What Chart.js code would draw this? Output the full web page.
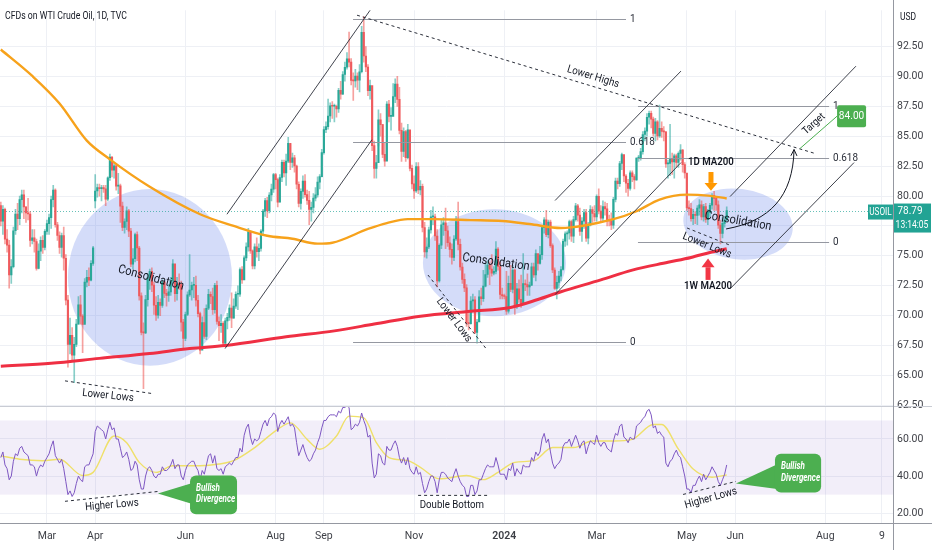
<!DOCTYPE html>
<html>
<head>
<meta charset="utf-8">
<title>CFDs on WTI Crude Oil, 1D</title>
<script src="https://cdn.jsdelivr.net/npm/chart.js"></script>
<style>
  html, body { margin: 0; padding: 0; background: #fff; }
  #box { width: 932px; height: 550px; position: relative; }
</style>
</head>
<body>
<div id="box"><canvas id="chart"></canvas></div>
<script>
// daily bars, one per weekday, 30 Jan 2023 .. 28 May 2024
const closes = [
  77.9, 78.9,
  76.4, 75.9, 73.4, 74.1, 77.1, 78.5, 78.1, 79.7, 80.1, 79.1, 78.6, 78.5, 76.3, 76.5, 76.2, 73.95, 75.4, 76.3, 75.7, 77.05,
  77.7, 78.2, 79.7, 80.5, 77.6, 76.7, 75.7, 76.7, 74.8, 71.3, 67.6, 68.35, 66.7, 67.6, 69.3, 70.9, 69.96, 69.26, 72.8, 73.2, 72.97, 74.37, 75.67,
  80.42, 80.71, 80.61, 80.7, 80.6, 79.74, 81.53, 83.26, 82.16, 82.52, 80.83, 80.86, 79.16, 77.37, 77.87, 78.76, 77.07, 74.3, 74.76, 76.78,
  75.66, 71.66, 68.6, 68.56, 71.34, 73.16, 73.71, 72.56, 70.87, 70.04, 71.11, 70.86, 72.83, 71.86, 71.69, 71.99, 72.91, 74.34, 71.83, 72.67, 72.6, 69.46, 68.09,
  70.1, 71.74, 72.15, 72.53, 72.53, 71.29, 70.17, 67.12, 69.42, 68.27, 70.62, 71.78, 71.6, 70.5, 72.53, 69.51, 69.16, 69.37, 67.7, 69.56, 69.86, 70.64,
  69.79, 70.8, 71.79, 71.8, 73.86, 72.99, 74.83, 75.75, 77.0, 75.42, 74.15, 75.75, 75.35, 75.63, 77.07, 78.74, 79.63, 78.78, 80.09, 80.58, 81.8,
  81.37, 79.49, 81.55, 82.82, 81.94, 82.92, 84.4, 82.82, 83.19, 82.51, 80.99, 79.38, 80.39, 81.25, 80.12, 79.64, 78.89, 79.05, 79.83, 80.1, 81.16, 81.63, 83.63,
  85.55, 85.8, 86.69, 87.54, 87.51, 87.51, 87.29, 88.84, 88.52, 90.16, 90.77, 91.48, 91.2, 89.66, 89.63, 90.03, 89.68, 90.39, 93.68, 91.71, 90.79,
  88.82, 89.23, 84.22, 82.31, 82.79, 86.38, 85.97, 83.49, 82.91, 87.69, 86.66, 86.66, 88.32, 89.37, 88.08, 85.49, 83.74, 85.39, 83.21, 85.54, 82.31, 81.02,
  80.44, 82.46, 80.51, 80.82, 77.37, 75.33, 75.74, 77.17, 78.26, 78.26, 76.66, 72.9, 75.89, 77.6, 77.77, 77.1, 76.1, 75.54, 74.86, 76.41, 77.86, 75.96,
  74.07, 73.04, 72.32, 69.38, 69.34, 71.23, 71.32, 68.61, 69.47, 71.58, 71.43, 72.47, 73.44, 74.22, 73.89, 73.56, 73.7, 75.57, 74.11, 71.77, 71.65,
  71.6, 70.38, 72.7, 72.19, 73.81, 70.77, 72.24, 71.37, 71.02, 72.68, 72.6, 72.4, 72.56, 74.08, 73.41, 75.19, 74.37, 75.09, 77.36, 78.01, 76.78, 77.82, 75.85,
  73.82, 72.28, 72.78, 73.31, 73.86, 76.22, 76.84, 76.92, 77.87, 76.64, 78.03, 79.19, 78.4, 77.04, 77.91, 78.61, 76.49, 77.58, 78.87, 78.54, 78.26,
  79.97, 78.74, 78.15, 79.13, 78.93, 78.01, 77.93, 77.56, 79.72, 81.26, 81.04, 82.72, 83.47, 81.68, 81.07, 80.63, 81.95, 81.62, 81.35, 83.17, 83.2,
  83.71, 85.15, 85.43, 86.59, 86.91, 86.43, 85.23, 86.21, 85.02, 85.66, 85.41, 85.36, 82.69, 82.73, 83.14, 82.85, 83.36, 82.81, 83.57, 83.85, 82.63, 81.93,
  79.0, 78.95, 78.11, 78.48, 78.38, 78.99, 79.26, 78.26, 79.12, 78.02, 78.63, 79.23, 80.06, 79.8, 79.26, 77.57, 76.87, 77.72, 78.0, 78.79
];
const highs = [
  79.5, 79.2,
  79.0, 77.2, 76.3, 74.7, 77.4, 78.9, 79.4, 80.0, 80.5, 80.5, 79.1, 79.8, 78.7, 77.2, 77.2, 76.4, 76.0, 76.6, 76.7, 77.2,
  78.0, 78.5, 80.0, 80.9, 80.6, 77.8, 77.0, 76.9, 77.4, 75.1, 71.7, 69.8, 69.0, 68.2, 69.7, 71.6, 71.7, 70.1, 73.1, 73.8, 74.0, 74.6, 75.8,
  81.8, 81.0, 81.0, 80.9, 80.9, 80.9, 81.6, 83.5, 83.3, 82.8, 82.6, 81.9, 81.0, 79.5, 78.1, 79.1, 78.9, 77.3, 75.6, 76.9,
  77.0, 75.8, 71.9, 69.4, 71.7, 73.5, 73.9, 74.0, 72.8, 71.6, 71.7, 71.4, 73.0, 72.9, 72.2, 72.6, 73.2, 74.7, 74.2, 73.2, 73.5, 72.9, 69.7,
  70.3, 72.0, 75.1, 72.8, 73.2, 73.3, 71.7, 70.3, 69.9, 70.6, 70.9, 72.2, 72.0, 72.3, 72.7, 72.9, 69.9, 70.1, 69.5, 69.8, 70.2, 70.9,
  71.9, 71.4, 72.0, 72.5, 74.0, 74.1, 75.0, 76.1, 77.3, 77.1, 75.5, 76.0, 76.5, 76.0, 77.2, 78.9, 79.8, 79.9, 80.3, 81.0, 81.9,
  81.9, 81.5, 81.8, 83.0, 83.0, 83.5, 84.9, 84.3, 83.6, 83.4, 82.6, 81.2, 80.6, 81.7, 81.8, 80.5, 80.4, 79.5, 80.2, 80.7, 81.6, 81.8, 83.9,
  85.8, 86.2, 88.1, 87.8, 87.9, 87.7, 87.6, 89.0, 89.6, 90.4, 91.2, 92.0, 93.7, 91.5, 90.3, 90.6, 90.3, 91.0, 94.2, 95.0, 92.5,
  91.0, 89.7, 89.0, 84.6, 83.4, 87.2, 86.9, 86.0, 84.5, 87.9, 88.0, 87.4, 89.4, 89.8, 90.0, 89.1, 86.1, 85.7, 85.5, 86.0, 85.5, 82.6,
  81.7, 82.8, 82.8, 81.3, 81.0, 77.8, 76.5, 77.4, 78.8, 79.1, 78.5, 77.2, 76.0, 78.0, 78.2, 79.0, 77.5, 76.6, 76.0, 76.7, 78.3, 79.5,
  76.4, 74.4, 73.5, 72.6, 70.2, 71.6, 71.8, 71.6, 69.7, 72.1, 72.3, 73.8, 74.4, 74.6, 74.5, 75.1, 74.1, 76.2, 75.7, 74.5, 72.3,
  71.8, 73.7, 73.3, 74.2, 74.2, 73.9, 72.7, 73.0, 73.4, 75.2, 73.0, 73.5, 72.8, 74.4, 74.4, 75.5, 75.1, 75.8, 77.5, 78.2, 78.8, 78.0, 78.0,
  76.0, 74.0, 73.3, 73.7, 74.1, 76.4, 77.0, 77.1, 78.0, 78.0, 78.3, 79.4, 79.3, 79.0, 78.2, 78.9, 78.9, 77.8, 79.2, 79.1, 79.2,
  80.1, 80.6, 79.2, 79.6, 79.5, 79.4, 78.4, 78.6, 79.9, 81.5, 81.5, 82.9, 83.6, 83.3, 81.8, 81.4, 82.1, 82.1, 81.8, 83.2, 83.4,
  84.0, 85.4, 85.7, 86.9, 87.1, 87.1, 86.6, 86.5, 86.3, 87.6, 86.2, 85.8, 85.4, 83.0, 86.0, 83.6, 83.5, 83.5, 83.7, 84.3, 83.9, 82.8,
  81.6, 79.6, 79.4, 78.9, 78.7, 79.2, 79.7, 79.6, 79.3, 79.4, 78.9, 79.4, 80.2, 80.4, 79.9, 79.6, 78.0, 78.2, 78.3, 79.1
];
const lows = [
  77.5, 76.8,
  76.0, 75.3, 72.3, 72.7, 74.0, 76.8, 77.2, 77.6, 78.6, 78.1, 77.8, 78.0, 75.8, 76.0, 75.3, 73.8, 73.9, 74.6, 75.2, 75.5,
  76.8, 76.8, 77.3, 79.1, 77.4, 76.3, 75.2, 74.9, 73.8, 70.9, 65.7, 66.8, 66.2, 64.4, 67.4, 69.3, 69.3, 66.9, 69.4, 72.4, 72.5, 72.9, 74.2,
  79.0, 79.9, 80.0, 79.6, 80.3, 79.2, 79.6, 81.3, 81.6, 81.5, 80.5, 80.2, 77.8, 77.1, 76.9, 77.2, 76.6, 74.1, 73.9, 74.5,
  74.6, 71.3, 68.4, 63.9, 68.5, 70.8, 72.2, 72.0, 70.1, 69.6, 69.8, 70.0, 70.7, 71.5, 70.8, 71.2, 71.7, 72.7, 71.2, 71.3, 72.2, 68.7, 67.2,
  67.9, 70.0, 71.6, 71.3, 71.5, 70.8, 69.9, 66.8, 67.6, 68.1, 68.0, 70.5, 71.0, 70.1, 70.2, 69.3, 67.9, 68.6, 67.5, 67.6, 68.9, 69.6,
  69.0, 69.8, 70.6, 70.5, 71.6, 72.7, 73.0, 74.6, 75.4, 75.2, 73.9, 73.9, 74.9, 74.6, 75.4, 76.7, 78.3, 78.2, 78.6, 79.6, 80.3,
  80.6, 79.1, 79.5, 81.2, 81.6, 80.9, 82.8, 82.2, 82.4, 82.0, 80.6, 79.1, 78.9, 79.8, 79.9, 79.3, 77.6, 77.9, 78.6, 79.6, 79.9, 80.6, 81.6,
  83.5, 85.3, 85.6, 86.2, 86.5, 86.2, 86.6, 87.0, 88.1, 88.5, 89.6, 90.6, 90.8, 89.3, 88.0, 89.1, 88.9, 88.7, 90.3, 91.2, 90.4,
  88.4, 88.1, 83.8, 81.5, 81.5, 84.2, 85.0, 83.2, 82.5, 83.0, 86.2, 85.5, 86.8, 87.8, 87.5, 85.2, 82.9, 83.3, 82.9, 83.1, 82.1, 80.6,
  79.8, 80.3, 80.2, 80.1, 77.0, 74.9, 74.8, 75.6, 76.9, 77.6, 76.3, 72.4, 72.8, 75.6, 76.7, 75.6, 75.8, 74.9, 74.3, 74.6, 76.3, 75.5,
  73.8, 72.7, 72.0, 69.1, 68.8, 69.3, 70.4, 68.5, 67.7, 69.5, 70.9, 71.2, 72.4, 73.2, 72.6, 73.3, 73.4, 73.5, 73.8, 71.4, 71.4,
  71.4, 70.1, 70.2, 72.0, 71.9, 70.1, 70.6, 71.1, 70.7, 72.3, 72.1, 71.7, 71.7, 72.5, 73.2, 72.9, 73.8, 74.3, 74.7, 76.9, 76.6, 76.5, 75.7,
  73.6, 72.2, 71.4, 72.3, 72.9, 73.8, 75.8, 75.9, 76.4, 76.2, 76.1, 77.9, 77.9, 76.7, 76.2, 77.3, 76.2, 76.0, 77.5, 77.8, 77.9,
  77.9, 78.5, 77.9, 77.9, 78.4, 77.5, 77.5, 77.2, 77.3, 79.5, 80.6, 80.8, 82.2, 81.2, 80.3, 80.0, 80.5, 81.2, 80.6, 81.3, 82.9,
  83.0, 83.5, 84.6, 85.0, 86.0, 85.7, 85.0, 84.6, 84.7, 84.9, 84.9, 84.6, 82.4, 81.5, 81.7, 81.8, 81.5, 82.4, 82.4, 83.0, 82.0, 81.5,
  78.8, 78.4, 77.9, 77.6, 77.7, 77.6, 78.4, 78.0, 77.9, 77.8, 77.6, 78.3, 78.9, 78.8, 78.8, 77.3, 76.0, 76.5, 77.4, 77.9
];
const firstOpen = 79.2;
const gapIdx = [45];
const gapOpen = [79.6];

// RSI(14), one value per bar
const rsiValues = [
  50, 53,
  46, 44, 38, 40, 48, 52, 51, 55, 56, 53, 52, 51, 46, 46, 45, 40, 44, 46, 45, 48,
  50, 52, 56, 59, 51, 49, 47, 49, 44, 37, 30, 32, 29, 31, 36, 40, 38, 37, 45, 46, 46, 49, 52,
  64, 67, 66, 65, 64, 60, 65, 69, 65, 66, 60, 60, 55, 50, 51, 53, 49, 43, 44, 48,
  46, 38, 33, 33, 40, 44, 45, 43, 40, 39, 41, 41, 45, 43, 43, 44, 46, 49, 44, 46, 46, 40, 38,
  43, 46, 47, 48, 48, 45, 43, 38, 43, 41, 46, 51, 52, 47, 51, 44, 43, 44, 41, 45, 46, 47,
  46, 48, 50, 50, 55, 53, 62, 66, 68, 61, 57, 60, 59, 60, 64, 68, 70, 67, 71, 72, 74,
  73, 64, 68, 70, 68, 70, 72, 67, 68, 66, 58, 51, 54, 57, 53, 50, 48, 49, 52, 54, 58, 61, 66,
  70, 70, 72, 73, 73, 73, 72, 75, 74, 77, 77, 78, 77, 65, 66, 68, 67, 69, 74, 70, 67,
  61, 62, 47, 39, 41, 52, 51, 47, 46, 56, 54, 54, 57, 59, 56, 50, 47, 50, 46, 50, 44, 42,
  41, 45, 41, 42, 36, 31, 33, 37, 40, 40, 37, 31, 38, 42, 42, 41, 39, 38, 37, 41, 44, 40,
  37, 35, 34, 29, 29, 35, 35, 30, 32, 38, 38, 41, 44, 46, 45, 45, 45, 50, 46, 41, 41,
  41, 38, 44, 43, 47, 40, 44, 42, 41, 46, 45, 45, 45, 50, 48, 53, 51, 53, 60, 63, 58, 60, 53,
  47, 44, 46, 47, 49, 56, 58, 58, 60, 56, 59, 62, 59, 55, 58, 59, 52, 56, 59, 58, 57,
  62, 58, 56, 58, 58, 55, 54, 53, 59, 63, 62, 67, 68, 61, 60, 58, 61, 60, 60, 67, 68,
  69, 71, 72, 75, 76, 73, 66, 67, 63, 64, 62, 61, 47, 45, 48, 49, 52, 54, 51, 50, 45, 40,
  33, 33, 31, 35, 35, 38, 40, 37, 41, 38, 40, 42, 45, 43, 41, 37, 35, 38, 41, 46
];
// RSI moving average (read at turning points)
const rsiMaIdx = [0, 9, 20, 28, 39, 44, 54, 60, 66, 74, 82, 95, 104, 111, 120, 132, 138, 146, 152, 160, 166, 173, 179, 185, 194, 200, 209, 222, 230, 237, 245, 254, 263, 273, 282, 292, 301, 311, 315, 323, 330, 339, 346];
const rsiMaVals = [50.9, 49.1, 48.3, 49.1, 40.3, 42, 61.6, 58, 47.4, 42, 45.6, 45.6, 46.5, 48.3, 54.5, 65.2, 68.7, 59.8, 54.5, 61.6, 72.3, 71.4, 58, 50, 48.3, 44.7, 38.5, 40.3, 38.1, 42, 47.4, 48.3, 55.4, 55.4, 58.9, 58.9, 59.8, 67.8, 67.8, 54.5, 43.8, 39.4, 40.6];

// 1D MA200 and 1W MA200
const maDayIdx = [0, 15, 28, 41, 52, 71, 95, 111, 127, 139, 151, 158, 175, 184, 194, 206, 224, 239, 252, 267, 292, 303, 314, 327, 337, 346];
const maDayVals = [92.25, 90.04, 87.74, 84.63, 83.07, 80.78, 78.48, 77.5, 76.68, 76.43, 76.02, 76.1, 77.25, 77.74, 78.07, 78.07, 77.99, 77.91, 77.66, 77.33, 78.07, 78.73, 79.71, 80.12, 80.04, 79.8];
const maWeekIdx = [0, 24, 47, 71, 90, 107, 136, 159, 178, 200, 224, 243, 256, 267, 286, 301, 318, 329, 338, 346];
const maWeekVals = [65.78, 66.02, 66.43, 66.84, 67.25, 67.5, 68.23, 68.73, 69.3, 69.96, 70.37, 70.69, 71.35, 72.0, 72.99, 73.81, 74.46, 74.87, 75.28, 75.6];

// axis labels
const tickIdx = [22, 45, 88, 131, 154, 197, 240, 284, 327, 350, 393, 420];
const tickText = ['Mar', 'Apr', 'Jun', 'Aug', 'Sep', 'Nov', '2024', 'Mar', 'May', 'Jun', 'Aug', '9'];
const priceTicks = [62.5, 65, 67.5, 70, 72.5, 75, 77.5, 80, 82.5, 85, 87.5, 90, 92.5];
const rsiTicks = [20, 40, 60];

// drawings, in bar index / price units
const zones = [
  [71.1, 73.2, 39.1, 7.38, 0],
  [235.3, 74.42, 34.1, 4.47, 0],
  [351.4, 77.66, 26.2, 2.95, 7]
];
const channelLines = [
  [107.8, 78.48, 176, 95.53], [106.9, 67.25, 176.9, 84.71],
  [264.2, 79.63, 324.2, 90.45], [264.2, 71.76, 324.2, 82.8],
  [347.6, 79.96, 407.6, 90.86], [347.6, 72.25, 406.7, 82.8]
];
const fibSets = [
  { from: 167.9, to: 298, levels: [[94.79, '1'], [84.55, '0.618'], [67.82, '0']] },
  { from: 303.7, to: 394.8, levels: [[87.5, '1'], [83.15, '0.618'], [76.19, '0']] }
];
const dashedPrice = [
  [169.8, 95.12, 388.1, 83.56], [30.6, 64.55, 72.5, 63.48],
  [203.6, 73.4, 231.3, 67.25], [327.1, 77.33, 348, 75.86]
];
const dashedRsi = [[30.6, 26.4, 74.9, 31.7], [198.9, 29.6, 233.2, 29.6], [325.2, 30.1, 350.4, 37.1]];
const priceNotes = [
  ['Lower Highs', 282.3, 89.96, 17, 11, 'normal'],
  ['Consolidation', 71.6, 73.15, 15, 12.5, 'normal'],
  ['Consolidation', 236, 74.46, 8, 12.5, 'normal'],
  ['Consolidation', 351.4, 77.9, 10, 12.5, 'normal'],
  ['Lower Lows', 51.1, 63.3, 6, 11, 'normal'],
  ['Lower Lows', 216, 69.63, 53, 11, 'normal'],
  ['Lower Lows', 336.6, 75.85, 22, 11, 'normal'],
  ['1D MA200', 338.5, 82.83, 0, 11, '600'],
  ['1W MA200', 337.1, 72.5, 0, 11, '600'],
  ['Target', 387.6, 86.02, -42, 10.5, 'normal']
];
const rsiNotes = [
  ['Higher Lows', 53, 24.3, -5, 11],
  ['Double Bottom', 215, 24.3, 0, 11],
  ['Higher Lows', 338.5, 28, -16, 11]
];
const callouts = [
  { box: [90.2, 40.27, 112.6, 19.47], tip: [74.9, 30.67], base: [0.18, 0.75] },
  { box: [369, 52, 391, 31.2], tip: [350.4, 36], base: [0.25, 0.92] }
];
const curveArrow = [345.7, 77.25, 366.6, 77.91, 377.6, 79.96, 378.1, 83.89];
const targetLine = [380.9, 83.97, 398.6, 86.68];
const targetText = '84.00';

const opens = closes.map((c, i) => i === 0 ? firstOpen : closes[i - 1]);
gapIdx.forEach((g, k) => { opens[g] = gapOpen[k]; });
const isUp = closes.map((c, i) => c >= opens[i]);
const bodyColor = isUp.map(u => u ? '#2aa898' : '#ef5a5d');
const wickColor = isUp.map(u => u ? 'rgba(38,166,154,0.55)' : 'rgba(239,83,80,0.55)');

const FONT = "Roboto, 'Liberation Sans', 'DejaVu Sans', sans-serif";
const INK = '#131722';
Chart.defaults.font.family = FONT;

function line(ctx, x1, y1, x2, y2) {
  ctx.beginPath(); ctx.moveTo(x1, y1); ctx.lineTo(x2, y2); ctx.stroke();
}
function txt(ctx, s, x, y, o) {
  o = o || {};
  ctx.save();
  ctx.translate(x, y);
  if (o.rot) ctx.rotate(o.rot * Math.PI / 180);
  ctx.font = (o.style || 'normal') + ' ' + (o.weight || 'normal') + ' ' + (o.size || 11) + 'px ' + FONT;
  const sx = o.width ? o.width / ctx.measureText(s).width : (o.sx || 0.88);
  ctx.scale(sx, 1);
  ctx.fillStyle = o.color || INK;
  ctx.textAlign = o.align || 'center';
  ctx.textBaseline = 'middle';
  ctx.fillText(s, 0, 0);
  ctx.restore();
}
function rbox(ctx, x, y, w, h, r) {
  ctx.beginPath();
  ctx.roundRect(x, y, w, h, r);
  ctx.fill();
}

const drawings = {
  id: 'drawings',
  beforeDatasetsDraw(chart) {
    const { ctx, chartArea: a, scales: { x, yP, yR } } = chart;
    ctx.save();
    const r70 = yR.getPixelForValue(70), r30 = yR.getPixelForValue(30);
    ctx.fillStyle = 'rgba(126,87,194,0.1)';
    ctx.fillRect(a.left, r70, a.right - a.left, r30 - r70);

    ctx.fillStyle = 'rgba(100,130,235,0.28)';
    zones.forEach(([c, p, hw, hh, tilt]) => {
      const cx = x.getPixelForValue(c), cy = yP.getPixelForValue(p);
      const rx = x.getPixelForValue(c + hw) - cx, ry = cy - yP.getPixelForValue(p + hh);
      ctx.beginPath();
      ctx.ellipse(cx, cy, rx, ry, tilt * Math.PI / 180, 0, Math.PI * 2);
      ctx.fill();
    });

    const ly = Math.round(yP.getPixelForValue(closes[closes.length - 1])) + 0.5;
    ctx.strokeStyle = 'rgba(38,166,154,0.7)';
    ctx.lineWidth = 1;
    ctx.setLineDash([1, 2]);
    line(ctx, a.left, ly, a.right, ly);
    ctx.restore();
  },
  afterDatasetsDraw(chart) {
    const { ctx, scales: { x, yP, yR } } = chart;
    const X = v => x.getPixelForValue(v), P = v => yP.getPixelForValue(v), R = v => yR.getPixelForValue(v);
    ctx.save();

    ctx.lineWidth = 1;
    ctx.strokeStyle = '#9598a1';
    fibSets.forEach(f => f.levels.forEach(([v, name]) => {
      const y = Math.round(P(v)) + 0.5;
      line(ctx, X(f.from), y, X(f.to), y);
      txt(ctx, name, X(f.to) + 4, y, { size: 11, align: 'left', sx: 0.9, color: '#2a2e39' });
    }));

    ctx.strokeStyle = '#2a2e39';
    ctx.lineWidth = 0.9;
    channelLines.forEach(([a1, b1, a2, b2]) => line(ctx, X(a1), P(b1), X(a2), P(b2)));

    ctx.setLineDash([3, 3]);
    ctx.lineWidth = 1;
    dashedPrice.forEach(([a1, b1, a2, b2]) => line(ctx, X(a1), P(b1), X(a2), P(b2)));
    dashedRsi.forEach(([a1, b1, a2, b2]) => line(ctx, X(a1), R(b1), X(a2), R(b2)));
    ctx.setLineDash([]);

    // target line, label and curved arrow
    ctx.strokeStyle = '#4caf50';
    line(ctx, X(targetLine[0]), P(targetLine[1]), X(targetLine[2]), P(targetLine[3]));
    const tx = X(targetLine[2]), ty = P(targetLine[3]);
    ctx.fillStyle = '#4caf50';
    rbox(ctx, tx, ty - 11, 29, 22, 2);
    txt(ctx, targetText, tx + 14.5, ty + 0.5, { size: 11, color: '#fff', sx: 0.92 });

    const c = curveArrow;
    ctx.strokeStyle = '#131722';
    ctx.lineWidth = 1;
    ctx.beginPath();
    ctx.moveTo(X(c[0]), P(c[1]));
    ctx.bezierCurveTo(X(c[2]), P(c[3]), X(c[4]), P(c[5]), X(c[6]), P(c[7]));
    ctx.stroke();
    const ex = X(c[6]), ey = P(c[7]);
    const ang = Math.atan2(ey - P(c[5]), ex - X(c[4]));
    line(ctx, ex, ey, ex - 7 * Math.cos(ang - 0.45), ey - 7 * Math.sin(ang - 0.45));
    line(ctx, ex, ey, ex - 7 * Math.cos(ang + 0.45), ey - 7 * Math.sin(ang + 0.45));

    // MA arrows
    const ox = X(338.5);
    ctx.fillStyle = '#ff9800';
    ctx.fillRect(ox - 2.5, P(82.01), 5, P(81.1) - P(82.01));
    ctx.beginPath();
    ctx.moveTo(ox - 6.5, P(81.1)); ctx.lineTo(ox + 6.5, P(81.1)); ctx.lineTo(ox, P(80.45)); ctx.closePath();
    ctx.fill();
    const rx = X(337.1);
    ctx.fillStyle = '#f23645';
    ctx.beginPath();
    ctx.moveTo(rx, P(74.79)); ctx.lineTo(rx + 6.5, P(74.05)); ctx.lineTo(rx - 6.5, P(74.05)); ctx.closePath();
    ctx.fill();
    ctx.fillRect(rx - 2.5, P(74.05), 5, P(72.99) - P(74.05));

    priceNotes.forEach(([s, i, v, rot, size, weight]) =>
      txt(ctx, s, X(i), P(v), { rot, size, weight }));
    rsiNotes.forEach(([s, i, v, rot, size]) =>
      txt(ctx, s, X(i), R(v), { rot, size }));

    callouts.forEach(cl => {
      const bx1 = X(cl.box[0]), by1 = R(cl.box[1]), bx2 = X(cl.box[2]), by2 = R(cl.box[3]);
      const h = by2 - by1;
      ctx.fillStyle = '#4caf50';
      ctx.beginPath();
      ctx.moveTo(X(cl.tip[0]), R(cl.tip[1]));
      ctx.lineTo(bx1 + 4, by1 + h * cl.base[0]);
      ctx.lineTo(bx1 + 4, by1 + h * cl.base[1]);
      ctx.closePath();
      ctx.fill();
      rbox(ctx, bx1, by1, bx2 - bx1, h, 6);
      txt(ctx, 'Bullish', bx1 + 6, by1 + h * 0.34, { size: 10, style: 'italic', weight: 'bold', color: '#fff', align: 'left', sx: 0.8 });
      txt(ctx, 'Divergence', bx1 + 6, by1 + h * 0.63, { size: 10, style: 'italic', weight: 'bold', color: '#fff', align: 'left', sx: 0.8 });
    });
    ctx.restore();
  },
  afterDraw(chart) {
    const { ctx, chartArea: a, scales: { yP, yR } } = chart;
    const W = chart.width, H = chart.height;
    ctx.save();
    ctx.strokeStyle = '#c9ccd4';
    ctx.lineWidth = 1;
    line(ctx, 0, Math.round(yR.top) + 0.5, W, Math.round(yR.top) + 0.5);
    ctx.strokeStyle = '#9598a1';
    line(ctx, Math.round(a.right) + 0.5, 0, Math.round(a.right) + 0.5, H);
    line(ctx, 0, Math.round(a.bottom) + 0.5, W, Math.round(a.bottom) + 0.5);

    // last price tags
    const last = closes[closes.length - 1];
    const ly = yP.getPixelForValue(last);
    ctx.fillStyle = '#22a394';
    ctx.fillRect(a.right - 25, ly - 6, 25, 15);
    txt(ctx, 'USOIL', a.right - 12.5, ly + 1.5, { size: 10, color: '#fff', sx: 0.82 });
    ctx.fillRect(a.right + 1, ly - 7, 37, 29);
    txt(ctx, last.toFixed(2), a.right + 17, ly + 1, { size: 10.5, color: '#fff', sx: 0.95 });
    txt(ctx, '13:14:05', a.right + 19, ly + 15, { size: 10, color: '#fff', sx: 0.85 });

    txt(ctx, 'USD', a.right + 15, 17, { size: 10, color: INK, sx: 0.85 });
    txt(ctx, 'CFDs on WTI Crude Oil, 1D, TVC', 5, 16, { size: 11.5, align: 'left', width: 122, color: INK });
    ctx.restore();
  }
};

new Chart(document.getElementById('chart'), {
  type: 'bar',
  data: {
    datasets: [
      {
        type: 'bar', label: 'wicks', xAxisID: 'x', yAxisID: 'yP',
        data: closes.map((c, i) => ({ x: i, y: [lows[i], highs[i]] })),
        backgroundColor: wickColor, barThickness: 1, grouped: false, borderWidth: 0, order: 6
      },
      {
        type: 'bar', label: 'bodies', xAxisID: 'x', yAxisID: 'yP',
        data: closes.map((c, i) => ({ x: i, y: [opens[i], c] })),
        backgroundColor: bodyColor, barThickness: 1.5, minBarLength: 1, grouped: false, borderWidth: 0, order: 5
      },
      {
        type: 'line', label: '1D MA200', xAxisID: 'x', yAxisID: 'yP',
        data: maDayIdx.map((v, k) => ({ x: v, y: maDayVals[k] })),
        borderColor: '#f7a21b', borderWidth: 2.4, pointRadius: 0, cubicInterpolationMode: 'monotone', order: 2
      },
      {
        type: 'line', label: '1W MA200', xAxisID: 'x', yAxisID: 'yP',
        data: maWeekIdx.map((v, k) => ({ x: v, y: maWeekVals[k] })),
        borderColor: '#ef2f43', borderWidth: 3, pointRadius: 0, cubicInterpolationMode: 'monotone', order: 1
      },
      {
        type: 'line', label: 'RSI MA', xAxisID: 'x', yAxisID: 'yR',
        data: rsiMaIdx.map((v, k) => ({ x: v, y: rsiMaVals[k] })),
        borderColor: '#efe06a', borderWidth: 1.4, pointRadius: 0, cubicInterpolationMode: 'monotone', order: 4
      },
      {
        type: 'line', label: 'RSI', xAxisID: 'x', yAxisID: 'yR',
        data: rsiValues.map((v, i) => ({ x: i, y: v })),
        borderColor: '#7e57c2', borderWidth: 1, pointRadius: 0, order: 3
      }
    ]
  },
  options: {
    responsive: true,
    maintainAspectRatio: false,
    animation: false,
    events: [],
    layout: { padding: 0 },
    plugins: { legend: { display: false }, tooltip: { enabled: false } },
    scales: {
      x: {
        type: 'linear', position: 'bottom', min: -0.38, max: 425.26,
        offset: false,
        grid: { color: '#eef0f5', offset: false, drawTicks: false },
        border: { display: false },
        afterBuildTicks: s => { s.ticks = tickIdx.map(v => ({ value: v })); },
        afterFit: s => { s.height = 27; },
        ticks: {
          autoSkip: false, maxRotation: 0, padding: 7, color: '#3d3f46',
          font: c => ({ size: 10.5, weight: c.tick && c.tick.value === 240 ? '600' : 'normal' }),
          callback: v => { const k = tickIdx.indexOf(v); return k < 0 ? '' : tickText[k]; }
        }
      },
      yP: {
        type: 'linear', position: 'right', stack: 'panes', stackWeight: 404,
        min: 62.42, max: 95.53, beginAtZero: false,
        grid: { color: '#eef0f5', drawTicks: false },
        border: { display: false },
        afterBuildTicks: s => { s.ticks = priceTicks.map(v => ({ value: v })); },
        afterFit: s => { s.width = 39; },
        ticks: { padding: 4, color: '#3d3f46', font: { size: 10.5 }, callback: v => v.toFixed(2) }
      },
      yR: {
        type: 'linear', position: 'right', stack: 'panes', stackWeight: 119,
        min: 14.7, max: 77.6, beginAtZero: false,
        grid: { color: '#eef0f5', drawTicks: false },
        border: { display: false },
        afterBuildTicks: s => { s.ticks = rsiTicks.map(v => ({ value: v })); },
        afterFit: s => { s.width = 39; },
        ticks: { padding: 4, color: '#3d3f46', font: { size: 10.5 }, callback: v => v.toFixed(2) }
      }
    }
  },
  plugins: [drawings]
});
</script>
</body>
</html>
